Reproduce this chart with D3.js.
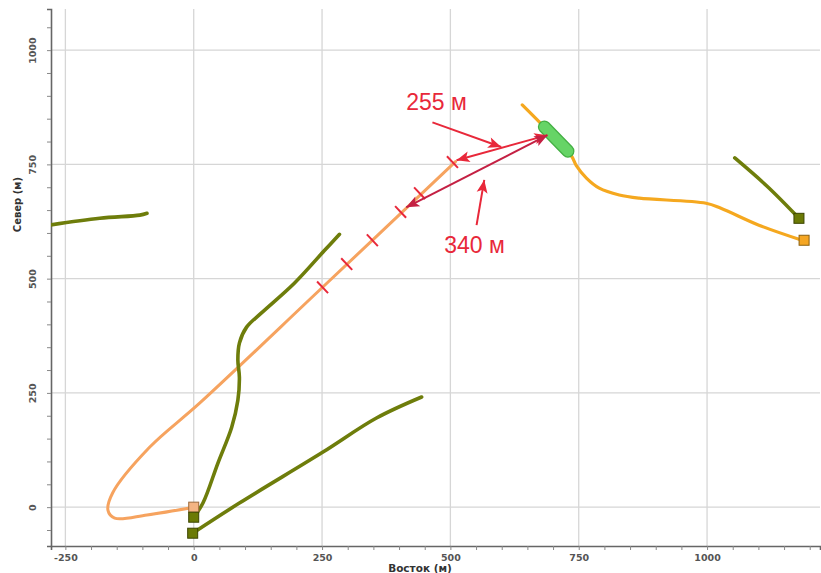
<!DOCTYPE html>
<html>
<head>
<meta charset="utf-8">
<script src="https://cdn.jsdelivr.net/npm/d3@7"></script>
<style>
  body { margin: 0; background: #fff; }
  svg { display: block; }
</style>
</head>
<body>
<svg id="chart" width="821" height="573"></svg>
<script>
// --- данные (Восток, Север в метрах) ---
const xTicks = [-250, 0, 250, 500, 750, 1000];
const yTicks = [0, 250, 500, 750, 1000];

// светло-оранжевая траектория (с петлёй у начала)
const lightTrack = [[0, 0], [-91, -17], [-154, -24], [-167, -7], [-158, 31], [-86, 131], [12, 228], [250, 480], [510, 756]];
// тёмно-оранжевая траектория
const orangeTrack = [[640, 880], [679, 836], [735, 770], [745, 748], [765, 720], [790, 698], [829, 683], [868, 676], [998, 665], [1027, 654], [1101, 617], [1185, 584]];
// оливковые траектории
const oliveS = [[0, -22], [18, 9], [47, 96], [74, 175], [86, 234], [89, 284], [86, 322], [89, 359], [103, 394], [132, 425], [196, 490], [255, 562], [284, 597]];
const oliveLow = [[-2, -57], [89, 9], [251, 120], [356, 195], [444, 241]];
const oliveLeft = [[-300, 614], [-183, 632], [-105, 639], [-91, 643]];
const oliveRight = [[1054, 764], [1118, 701], [1179, 632]];
// зелёный участок
const greenZone = [[683, 832], [729, 779]];
// отметки на траектории
const marks = [[251, 481], [298, 532], [348, 584], [403, 646], [440, 687], [504, 755]];
// квадратные маркеры: [x, y, тип]
const squares = [[0, 0, "light"], [0, -22, "olive"], [-2, -57, "olive"], [1179, 632, "olive"], [1189, 584, "orange"]];
// подписи и стрелки
const labels = [{ text: "255 м", x: 473, y: 886 }, { text: "340 м", x: 547, y: 573 }];
const arrows = [
  { from: [465, 842], to: [599, 788], both: false, color: "#e8283a" },
  { from: [512, 759], to: [689, 814], both: true, color: "#e8283a" },
  { from: [414, 656], to: [689, 814], both: true, color: "#c42043" },
  { from: [551, 617], to: [566, 716], both: false, color: "#e8283a" }
];

const W = 821, H = 573;
const margin = { top: 9, right: 1, bottom: 27, left: 51 };
const width = W - margin.left - margin.right;
const height = H - margin.top - margin.bottom;

const svg = d3.select("#chart");
const g = svg.append("g").attr("transform", `translate(${margin.left},${margin.top})`);

const x = d3.scaleLinear().domain([-278, 1220]).range([0, width]);
const y = d3.scaleLinear().domain([-85, 1090]).range([height, 0]);

svg.append("defs").append("clipPath").attr("id", "clip")
  .append("rect").attr("width", width).attr("height", height);

// --- сетка ---
g.append("g").selectAll("line").data(xTicks).enter().append("line")
  .attr("x1", d => x(d)).attr("x2", d => x(d)).attr("y1", 0).attr("y2", height)
  .attr("stroke", "#d6d6d6").attr("stroke-width", 1.3);
g.append("g").selectAll("line").data(yTicks).enter().append("line")
  .attr("y1", d => y(d)).attr("y2", d => y(d)).attr("x1", 0).attr("x2", width)
  .attr("stroke", "#d6d6d6").attr("stroke-width", 1.3);

// --- оси ---
const minorX = d3.range(-250, 1201, 50);
const minorY = d3.range(-50, 1051, 50);

const axX = g.append("g").attr("transform", `translate(0,${height})`)
  .call(d3.axisBottom(x).tickValues(minorX).tickSize(4)
    .tickFormat(d => xTicks.includes(d) ? d : ""));
const axY = g.append("g")
  .call(d3.axisLeft(y).tickValues(minorY).tickSize(4)
    .tickFormat(d => yTicks.includes(d) ? d : ""));

[axX, axY].forEach(a => {
  a.select(".domain").attr("stroke", "#666").attr("stroke-width", 1.6);
  a.selectAll(".tick line").attr("stroke", "#888");
  a.selectAll(".tick text")
    .style("font-family", "DejaVu Sans, sans-serif")
    .style("font-size", "9.5px").style("font-weight", "bold").attr("fill", "#555");
});
axX.selectAll(".tick text").attr("dy", "0.85em");
axY.selectAll(".tick text")
  .attr("transform", "rotate(-90)")
  .attr("x", 0).attr("y", -15).attr("dy", 0)
  .attr("text-anchor", "middle");

// подписи осей
svg.append("text")
  .attr("x", 420).attr("y", 572)
  .attr("text-anchor", "middle")
  .style("font-family", "DejaVu Sans, sans-serif").style("font-size", "10.5px").style("font-weight", "bold")
  .attr("fill", "#333").text("Восток (м)");
svg.append("text")
  .attr("transform", `translate(21,${margin.top + y(662)}) rotate(-90)`)
  .attr("text-anchor", "middle")
  .style("font-family", "DejaVu Sans, sans-serif").style("font-size", "10px").style("font-weight", "bold")
  .attr("fill", "#333").text("Север (м)");

// --- линии ---
const plot = g.append("g").attr("clip-path", "url(#clip)");
const line = d3.line().x(d => x(d[0])).y(d => y(d[1])).curve(d3.curveCatmullRom.alpha(0.5));

function track(data, color, w) {
  plot.append("path").datum(data)
    .attr("fill", "none").attr("stroke", color).attr("stroke-width", w)
    .attr("stroke-linecap", "round").attr("stroke-linejoin", "round")
    .attr("d", line);
}

track(lightTrack, "#f6a35f", 3);
track(orangeTrack, "#f5a81f", 3.2);
[oliveS, oliveLow, oliveLeft, oliveRight].forEach(d => track(d, "#6e7d0b", 3.6));

// зелёный участок
plot.append("path").datum(greenZone)
  .attr("fill", "none").attr("stroke", "#44b044").attr("stroke-width", 13)
  .attr("stroke-linecap", "round").attr("d", line);
plot.append("path").datum(greenZone)
  .attr("fill", "none").attr("stroke", "#66d466").attr("stroke-width", 10.5)
  .attr("stroke-linecap", "round").attr("d", line);

// отметки перпендикулярно траектории
const p0 = [x(lightTrack[6][0]), y(lightTrack[6][1])];
const p1 = [x(lightTrack[8][0]), y(lightTrack[8][1])];
const len = Math.hypot(p1[0] - p0[0], p1[1] - p0[1]);
const nx = -(p1[1] - p0[1]) / len, ny = (p1[0] - p0[0]) / len;
plot.append("g").selectAll("line").data(marks).enter().append("line")
  .attr("x1", d => x(d[0]) - nx * 8).attr("y1", d => y(d[1]) - ny * 8)
  .attr("x2", d => x(d[0]) + nx * 8).attr("y2", d => y(d[1]) + ny * 8)
  .attr("stroke", "#e8283a").attr("stroke-width", 2);

// квадратные маркеры
const sqStyle = {
  light: { fill: "#f4b483", stroke: "#9c6a3c" },
  olive: { fill: "#6b7a05", stroke: "#3c4500" },
  orange: { fill: "#f5a623", stroke: "#8a6010" }
};
g.append("g").selectAll("rect").data(squares).enter().append("rect")
  .attr("x", d => x(d[0]) - 5).attr("y", d => y(d[1]) - 5)
  .attr("width", 10).attr("height", 10)
  .attr("fill", d => sqStyle[d[2]].fill).attr("stroke", d => sqStyle[d[2]].stroke).attr("stroke-width", 1);

// --- аннотации ---
function head(tip, tail, color) {
  const dx = tip[0] - tail[0], dy = tip[1] - tail[1];
  const l = Math.hypot(dx, dy), ux = dx / l, uy = dy / l;
  const L = 13, Wd = 5.5;
  const bx = tip[0] - ux * L, by = tip[1] - uy * L;
  g.append("path")
    .attr("d", `M${tip[0]},${tip[1]}L${bx - uy * Wd},${by + ux * Wd}L${bx + ux * 3},${by + uy * 3}L${bx + uy * Wd},${by - ux * Wd}Z`)
    .attr("fill", color);
}
arrows.forEach(a => {
  const s = [x(a.from[0]), y(a.from[1])], e = [x(a.to[0]), y(a.to[1])];
  g.append("line")
    .attr("x1", s[0]).attr("y1", s[1]).attr("x2", e[0]).attr("y2", e[1])
    .attr("stroke", a.color).attr("stroke-width", 2);
  head(e, s, a.color);
  if (a.both) head(s, e, a.color);
});

g.append("g").selectAll("text").data(labels).enter().append("text")
  .attr("x", d => x(d.x)).attr("y", d => y(d.y))
  .attr("text-anchor", "middle").attr("dominant-baseline", "central")
  .style("font-family", "Liberation Sans, Arial, sans-serif").style("font-size", "23px")
  .attr("fill", "#e8283a").text(d => d.text);
</script>
</body>
</html>
